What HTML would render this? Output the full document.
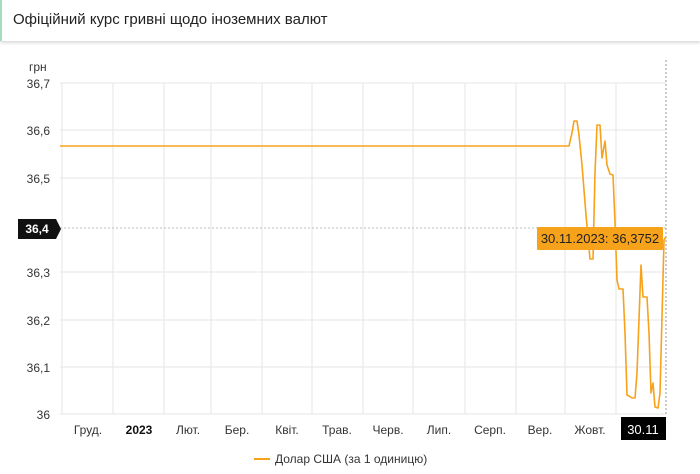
<!DOCTYPE html><html><head><style>
body{margin:0;width:700px;height:474px;background:#fff;font-family:"Liberation Sans",sans-serif;overflow:hidden;position:relative}
.hdr{position:absolute;left:0;top:0;width:700px;height:41px;border-left:2px solid #a6dcc0;box-shadow:0 2px 3px rgba(0,0,0,.15);box-sizing:border-box}
.hdr span{position:absolute;left:11px;top:11px;font-size:15px;color:#222}
</style></head><body>
<div class="hdr"><span>Офіційний курс гривні щодо іноземних валют</span></div>
<svg width="700" height="474" style="position:absolute;left:0;top:0" font-family="Liberation Sans, sans-serif">
<g stroke="#e6e6e6" stroke-width="1">
<line x1="60" y1="83" x2="666" y2="83"/><line x1="60" y1="130" x2="666" y2="130"/><line x1="60" y1="178" x2="666" y2="178"/><line x1="60" y1="272" x2="666" y2="272"/><line x1="60" y1="320" x2="666" y2="320"/><line x1="60" y1="367" x2="666" y2="367"/><line x1="60" y1="414" x2="666" y2="414"/>
<line x1="62" y1="83" x2="62" y2="414"/><line x1="113" y1="83" x2="113" y2="414"/><line x1="164" y1="83" x2="164" y2="414"/><line x1="211" y1="83" x2="211" y2="414"/><line x1="262" y1="83" x2="262" y2="414"/><line x1="312" y1="83" x2="312" y2="414"/><line x1="363" y1="83" x2="363" y2="414"/><line x1="413" y1="83" x2="413" y2="414"/><line x1="465" y1="83" x2="465" y2="414"/><line x1="516" y1="83" x2="516" y2="414"/><line x1="565" y1="83" x2="565" y2="414"/><line x1="616" y1="83" x2="616" y2="414"/>
</g>
<line x1="60" y1="228" x2="666" y2="228" stroke="#bbb" stroke-dasharray="2,2"/>
<line x1="666" y1="60" x2="666" y2="414" stroke="#999" stroke-dasharray="2,2"/>
<text x="29" y="71" font-size="12" fill="#333">грн</text>
<g font-size="12" fill="#333" text-anchor="end">
<text x="50" y="88">36,7</text><text x="50" y="135">36,6</text><text x="50" y="183">36,5</text><text x="50" y="277">36,3</text><text x="50" y="325">36,2</text><text x="50" y="372">36,1</text><text x="50" y="419">36</text>
</g>
<rect x="18" y="219" width="38" height="20" fill="#111"/><path d="M56 219 L61 229 L56 239Z" fill="#111"/>
<text x="37" y="233" font-size="12" fill="#fff" text-anchor="middle" font-weight="bold">36,4</text>
<g font-size="12" fill="#333" text-anchor="middle">
<text x="88" y="434">Груд.</text><text x="139" y="434" font-weight="bold" fill="#111">2023</text><text x="188" y="434">Лют.</text><text x="237" y="434">Бер.</text><text x="287" y="434">Квіт.</text><text x="337" y="434">Трав.</text><text x="388" y="434">Черв.</text><text x="439" y="434">Лип.</text><text x="490" y="434">Серп.</text><text x="540" y="434">Вер.</text><text x="590" y="434">Жовт.</text>
</g>
<rect x="621" y="417" width="45" height="23" fill="#000"/>
<text x="643" y="434" font-size="13" fill="#fff" text-anchor="middle">30.11</text>
<polyline fill="none" stroke="#f7a21b" stroke-width="1.6" stroke-linejoin="round" points="60,146 569,146 571,137 572,133 574,121 577,121 579,135 582,165 586,215 590,259 593,259 595,173 597,125 600,125 602,158 605,141 607,165 610,174 613,175 615,223 617,280 619,289 623,289 625,333 627,395 629,396 632,398 635,398 637,373 641,265 643,297 647,297 649,333 651,393 653,383 655,407 658,408 660,393 662,317 664,240 666,237"/>
<rect x="537" y="227" width="126" height="23" fill="#f7a21b" rx="1"/>
<text x="600" y="243" font-size="13" fill="#222" text-anchor="middle">30.11.2023: 36,3752</text>
<line x1="254" y1="459" x2="270" y2="459" stroke="#f7a21b" stroke-width="2"/>
<text x="275" y="463" font-size="12" fill="#333">Долар США (за 1 одиницю)</text>
</svg>
</body></html>
